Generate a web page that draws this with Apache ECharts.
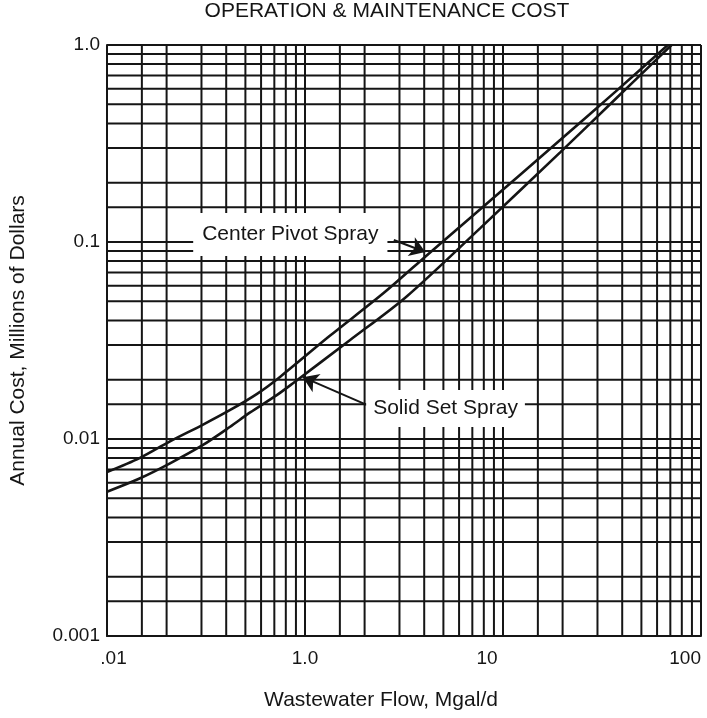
<!DOCTYPE html>
<html>
<head>
<meta charset="utf-8">
<script src="https://cdn.jsdelivr.net/npm/echarts@6/dist/echarts.min.js"></script>
<style>
html,body{margin:0;padding:0;background:#fff;}
#chart{width:707px;height:718px;}
</style>
</head>
<body>
<div id="chart"></div>
<script>
// ---- data ----
const flowCenterPivot = [0.1, 0.146, 0.207, 0.304, 0.417, 0.57, 0.745, 1.33, 2.53, 4.2, 7.7, 19.5, 37, 68];
const costCenterPivot = [0.0068, 0.0080, 0.0097, 0.0118, 0.0140, 0.0169, 0.0206, 0.0333, 0.0557, 0.087, 0.147, 0.33, 0.58, 1.0];
const flowSolidSet = [0.1, 0.146, 0.207, 0.304, 0.417, 0.526, 0.72, 0.87, 1.69, 3.24, 7.7, 19.5, 37, 71];
const costSolidSet = [0.0054, 0.0063, 0.0075, 0.0093, 0.0115, 0.0136, 0.0167, 0.0192, 0.0318, 0.0526, 0.118, 0.286, 0.532, 1.0];

const xTickValues = [0.1, 1, 10, 100];
const xTickLabels = ['.01', '1.0', '10', '100'];
const yTickValues = [0.001, 0.01, 0.1, 1];
const yTickLabels = ['0.001', '0.01', '0.1', '1.0'];
const gridMultipliers = [1, 1.5, 2, 3, 4, 5, 6, 7, 8, 9];
const xDecades = [0.1, 1, 10];
const yDecades = [0.001, 0.01, 0.1];

const titleText = 'OPERATION & MAINTENANCE COST';
const xName = 'Wastewater Flow, Mgal/d';
const yName = 'Annual Cost, Millions of Dollars';
const nameCenterPivot = 'Center Pivot Spray';
const nameSolidSet = 'Solid Set Spray';
// annotation anchors in data units [flow, cost]
const labelCenterPivotAt = [0.843, 0.1092];
const labelSolidSetAt = [5.125, 0.01428];
const arrowCenterPivot = [[2.81, 0.1024], [4.05, 0.089]];
const arrowSolidSet = [[2.05, 0.0149], [0.975, 0.0206]];

// ---- build ----
const FONT = 'Liberation Sans, Arial, Helvetica, sans-serif';
const INK = '#151515';
const X_MIN = 0.1, X_MAX = 100, Y_MIN = 0.001, Y_MAX = 1;
const xGrid = [];
xDecades.forEach(d => gridMultipliers.forEach(m => xGrid.push(+(d * m).toPrecision(6))));
xGrid.push(X_MAX);
const yGrid = [];
yDecades.forEach(d => gridMultipliers.forEach(m => yGrid.push(+(d * m).toPrecision(6))));
yGrid.push(Y_MAX);

function idxOf(vals, v) {
  const lv = Math.log10(v);
  let best = -1, bd = 1e9;
  vals.forEach((t, i) => { const dd = Math.abs(Math.log10(t) - lv); if (dd < bd) { bd = dd; best = i; } });
  return bd < 0.01 ? best : -1;
}

const gridSeries = [];
xGrid.forEach(v => gridSeries.push({
  type: 'line', silent: true, z: 1, symbol: 'none', animation: false,
  data: [[v, Y_MIN], [v, Y_MAX]], lineStyle: {color: INK, width: 2}, emphasis: {disabled: true}
}));
yGrid.forEach(v => gridSeries.push({
  type: 'line', silent: true, z: 1, symbol: 'none', animation: false,
  data: [[X_MIN, v], [X_MAX, v]], lineStyle: {color: INK, width: 2}, emphasis: {disabled: true}
}));

const chart = echarts.init(document.getElementById('chart'), null, {renderer: 'canvas'});
chart.setOption({
  animation: false,
  backgroundColor: '#fff',
  title: {
    text: titleText,
    left: 387,
    textAlign: 'center',
    top: 1,
    padding: 0,
    textStyle: {fontFamily: FONT, fontSize: 21, fontWeight: 'normal', color: INK}
  },
  grid: {left: 107, right: 6, top: 45, bottom: 82, containLabel: false},
  xAxis: {
    type: 'log', logBase: 10, min: X_MIN, max: X_MAX,
    name: xName, nameLocation: 'middle', nameGap: 54,
    nameTextStyle: {fontFamily: FONT, fontSize: 21, color: INK, padding: [0, 46, 0, 0]},
    axisLine: {show: true, lineStyle: {color: INK, width: 2}},
    axisTick: {show: false},
    splitLine: {show: false},
    axisLabel: {
      margin: 13, color: INK, fontFamily: FONT, fontSize: 19,
      alignMaxLabel: 'right',
      formatter: v => {
        const i = idxOf(xTickValues, v);
        if (i < 0) return '';
        if (i === 0) return '{l|' + xTickLabels[i] + '}';
        if (i === 2) return '{m|' + xTickLabels[i] + '}';
        return xTickLabels[i];
      },
      rich: {
        l: {fontFamily: FONT, fontSize: 19, color: INK, padding: [0, 0, 0, 13]},
        m: {fontFamily: FONT, fontSize: 19, color: INK, padding: [0, 32, 0, 0]}
      }
    }
  },
  yAxis: {
    type: 'log', logBase: 10, min: Y_MIN, max: Y_MAX,
    name: yName, nameLocation: 'middle', nameGap: 78,
    nameTextStyle: {fontFamily: FONT, fontSize: 21, color: INK},
    axisLine: {show: true, lineStyle: {color: INK, width: 2}},
    axisTick: {show: false},
    splitLine: {show: false},
    axisLabel: {
      margin: 7, color: INK, fontFamily: FONT, fontSize: 19,
      formatter: v => { const i = idxOf(yTickValues, v); return i < 0 ? '' : yTickLabels[i]; }
    }
  },
  series: gridSeries.concat([
    {
      type: 'line', name: nameCenterPivot, z: 5, smooth: 0.3,
      data: flowCenterPivot.map((f, i) => [f, costCenterPivot[i]]),
      symbol: 'none', lineStyle: {color: INK, width: 2.6}
    },
    {
      type: 'line', name: nameSolidSet, z: 5, smooth: 0.3,
      data: flowSolidSet.map((f, i) => [f, costSolidSet[i]]),
      symbol: 'none', lineStyle: {color: INK, width: 2.6}
    },
    {
      type: 'line', name: 'annotations', z: 10, silent: true,
      data: [[X_MIN, Y_MIN]], symbol: 'none', lineStyle: {width: 0},
      markPoint: {
        silent: true, animation: false,
        symbol: 'rect', symbolSize: 1, itemStyle: {color: 'rgba(0,0,0,0)'},
        label: {
          show: true, position: 'inside', formatter: '{b}',
          fontFamily: FONT, fontSize: 21, color: INK, backgroundColor: '#fff'
        },
        data: [
          {name: nameCenterPivot, coord: labelCenterPivotAt, label: {padding: [13, 9, 9, 9]}},
          {name: nameSolidSet, coord: labelSolidSetAt, label: {padding: [8, 7, 8, 7]}}
        ]
      },
      markLine: {
        silent: true, animation: false,
        symbol: ['none', 'arrow'], symbolSize: 15,
        label: {show: false},
        lineStyle: {color: INK, width: 2, type: 'solid'},
        itemStyle: {color: INK},
        data: [
          [{coord: arrowCenterPivot[0]}, {coord: arrowCenterPivot[1]}],
          [{coord: arrowSolidSet[0]}, {coord: arrowSolidSet[1]}]
        ]
      }
    }
  ])
});
</script>
</body>
</html>
